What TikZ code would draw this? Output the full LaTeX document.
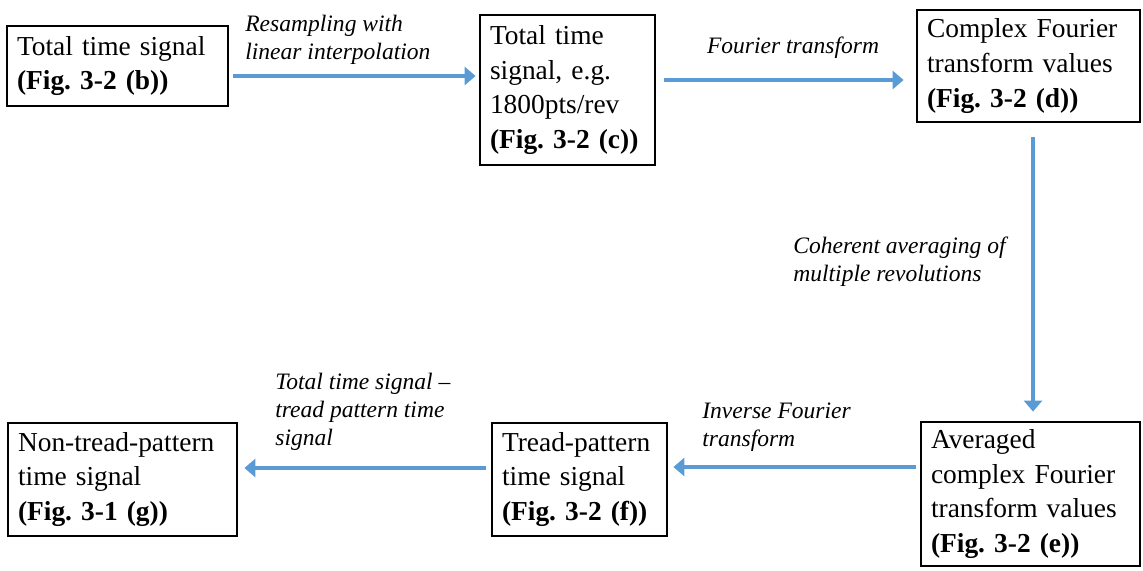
\documentclass[tikz,border=0pt]{standalone}
\usepackage{fontspec}
\setmainfont{Liberation Serif}
\usetikzlibrary{arrows.meta}
\definecolor{flowblue}{HTML}{5B9BD5}
\frenchspacing
\tikzset{
  stage/.style={
    draw,
    line width=1.6pt,
    align=left,
    inner xsep=0.2cm,
    font=\fontsize{15.6}{19.8}\selectfont
  },
  flow/.style={
    draw=flowblue,
    line width=2.8pt,
    -{Triangle[length=0.22cm,width=0.36cm]}
  },
  note/.style={
    align=left,
    inner sep=0pt,
    font=\fontsize{13.4}{15.9}\selectfont\itshape
  }
}

\begin{document}
\begin{tikzpicture}[x=0.02cm,y=-0.02cm]
\useasboundingbox (0,0) rectangle (1143,571);
% boxes
\node (sigb) at (117.5,66) [stage,text width=4.02cm,minimum height=1.6cm]
  {Total time signal\\\textbf{(Fig. 3-2 (b))}};
\node (sigc) at (567.5,90) [stage,text width=3.1cm,minimum height=3.0cm]
  {Total time\\signal, e.g.\\1800pts/rev\\\textbf{(Fig. 3-2 (c))}};
\node (ftd) at (1028.5,66) [stage,text width=4.06cm,minimum height=2.24cm]
  {Complex Fourier\\transform values\\\textbf{(Fig. 3-2 (d))}};
\node (fte) at (1030.5,494) [stage,text width=3.98cm,minimum height=2.88cm]
  {Averaged\\complex Fourier\\transform values\\\textbf{(Fig. 3-2 (e))}};
\node (sigf) at (579.5,479.5) [stage,text width=3.1cm,minimum height=2.26cm]
  {Tread-pattern\\time signal\\\textbf{(Fig. 3-2 (f))}};
\node (sigg) at (122.5,479.5) [stage,text width=4.18cm,minimum height=2.26cm]
  {Non-tread-pattern\\time signal\\\textbf{(Fig. 3-1 (g))}};
% arrows
\draw [flow] ([shift={(4,10)}]sigb.east) -- ([shift={(-3,-14)}]sigc.west);
\draw [flow] ([shift={(8,-10)}]sigc.east) -- ([shift={(-12,14)}]ftd.west);
\draw [flow] ([shift={(4.5,14)}]ftd.south) -- ([shift={(2.5,-9)}]fte.north);
\draw [flow] ([shift={(-4,-27)}]fte.west) -- ([shift={(5,-12.5)}]sigf.east);
\draw [flow] ([shift={(-5,-11.5)}]sigf.west) -- ([shift={(6,-11.5)}]sigg.east);
% labels
\node (resample) at (245,40) [note,anchor=west]
  {Resampling with\\linear interpolation};
\node (fourier) at (793,48) [note] {Fourier transform};
\node (coherent) at (793,262) [note,anchor=west]
  {Coherent averaging of\\multiple revolutions};
\node (inverse) at (702,427) [note,anchor=west]
  {Inverse Fourier\\transform};
\node (difference) at (275,412) [note,anchor=west]
  {Total time signal --\\tread pattern time\\signal};
\end{tikzpicture}
\end{document}
